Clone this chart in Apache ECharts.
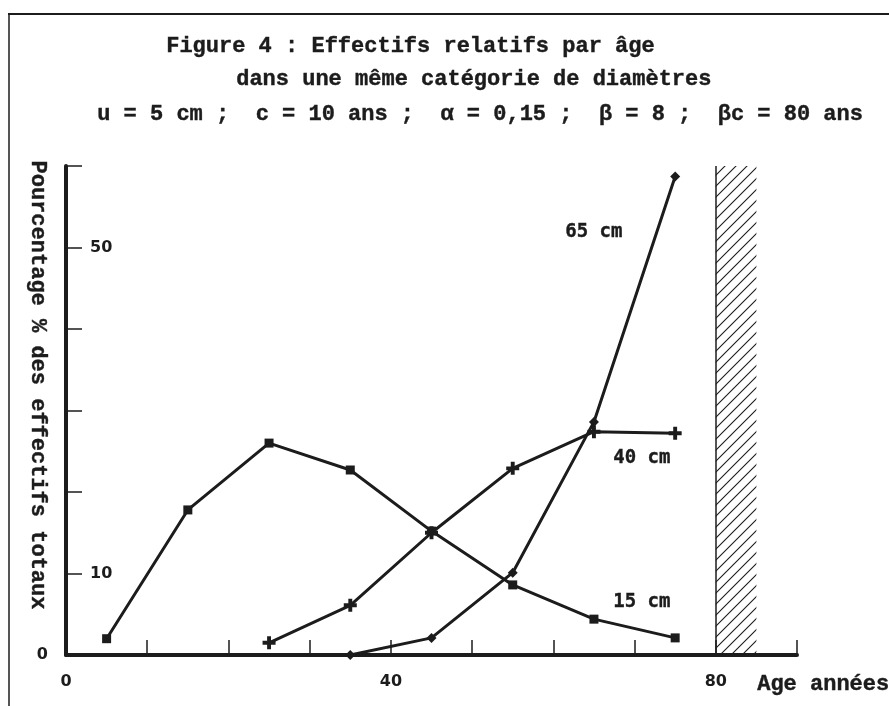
<!DOCTYPE html>
<html>
<head>
<meta charset="utf-8">
<script src="https://cdn.jsdelivr.net/npm/echarts@6/dist/echarts.min.js"></script>
<style>
html, body { margin: 0; padding: 0; background: #fff; }
#chart { width: 889px; height: 706px; }
</style>
</head>
<body>
<div id="chart"></div>
<script>
// ages (centre des classes de 10 ans)
var ages = [5, 15, 25, 35, 45, 55, 65, 75];
// pourcentage des effectifs totaux par catégorie de diamètre
var pct15 = [2.0, 17.8, 26.0, 22.7, 15.2, 8.6, 4.4, 2.1];
var pct40 = [null, null, 1.5, 6.1, 15.0, 22.9, 27.4, 27.2];
var pct65 = [null, null, null, 0, 2.1, 10.1, 28.6, 58.7];
var seriesNames = ['15 cm', '40 cm', '65 cm'];
var xTickLabels = [0, 40, 80];
var yInsideLabels = [10, 50];
var yOutsideLabels = [0];
var hatchFrom = [80, 0];
var hatchTo = [85, 60];

var ink = '#1c1c1c';
var mono = '"Liberation Mono", "DejaVu Sans Mono", monospace';
var sans = '"DejaVu Sans", Verdana, sans-serif';

function pairs(vals) {
    var out = [];
    for (var i = 0; i < ages.length; i++) {
        if (vals[i] !== null) out.push([ages[i], vals[i]]);
    }
    return out;
}

// motif hachuré pour la zone au-delà de βc
var hatch = document.createElement('canvas');
hatch.width = 11;
hatch.height = 11;
var hc = hatch.getContext('2d');
hc.strokeStyle = ink;
hc.lineWidth = 1.1;
hc.beginPath();
hc.moveTo(0, 11); hc.lineTo(11, 0);
hc.moveTo(-5.5, 5.5); hc.lineTo(5.5, -5.5);
hc.moveTo(5.5, 16.5); hc.lineTo(16.5, 5.5);
hc.stroke();

var plusPath = 'path://M3.5,0h3v3.5h3.5v3h-3.5v3.5h-3v-3.5h-3.5v-3h3.5z';

function lineSeries(name, vals, symbol, size) {
    return {
        name: name,
        type: 'line',
        data: pairs(vals),
        symbol: symbol,
        symbolSize: size,
        showSymbol: true,
        lineStyle: { color: ink, width: 3 },
        itemStyle: { color: ink },
        z: 3
    };
}

function txt(left, top, s, family, size) {
    return {
        type: 'text', left: left, top: top,
        style: {
            text: s, fontFamily: family, fontSize: size, fontWeight: 'bold',
            fill: ink, stroke: ink, lineWidth: 0.4
        }
    };
}

var s15 = lineSeries(seriesNames[0], pct15, 'rect', 9);
s15.markArea = {
    silent: true,
    itemStyle: { color: { image: hatch, repeat: 'repeat' } },
    data: [[{ coord: hatchFrom }, { coord: hatchTo }]]
};
s15.markLine = {
    silent: true,
    symbol: 'none',
    label: { show: false },
    lineStyle: { color: ink, width: 1.5, type: 'solid' },
    data: [[{ coord: hatchFrom }, { coord: [hatchFrom[0], hatchTo[1]] }]]
};

var tickLabel = { color: ink, fontFamily: sans, fontWeight: 'bold', fontSize: 16 };

var option = {
    animation: false,
    backgroundColor: '#ffffff',
    grid: { left: 66, top: 166, width: 731, height: 489, containLabel: false },
    xAxis: {
        type: 'value',
        min: 0,
        max: 90,
        interval: 10,
        splitLine: { show: false },
        axisLine: { lineStyle: { color: ink, width: 4 } },
        axisTick: { inside: true, length: 15, lineStyle: { color: ink, width: 1.5 } },
        axisLabel: Object.assign({
            margin: 19,
            formatter: function (v) { return xTickLabels.indexOf(v) >= 0 ? String(v) : ''; }
        }, tickLabel)
    },
    yAxis: [{
        type: 'value',
        min: 0,
        max: 60,
        interval: 10,
        splitLine: { show: false },
        axisLine: { lineStyle: { color: ink, width: 4 } },
        axisTick: { inside: true, length: 16, lineStyle: { color: ink, width: 1.5 } },
        axisLabel: Object.assign({
            inside: true,
            margin: 24,
            formatter: function (v) { return yInsideLabels.indexOf(v) >= 0 ? String(v) : ''; }
        }, tickLabel)
    }, {
        type: 'value',
        position: 'left',
        min: 0,
        max: 60,
        interval: 10,
        splitLine: { show: false },
        axisLine: { show: false },
        axisTick: { show: false },
        axisLabel: Object.assign({
            margin: 18,
            formatter: function (v) { return yOutsideLabels.indexOf(v) >= 0 ? String(v) : ''; }
        }, tickLabel)
    }],
    series: [
        s15,
        lineSeries(seriesNames[1], pct40, plusPath, 13),
        lineSeries(seriesNames[2], pct65, 'diamond', 10)
    ],
    graphic: [
        { type: 'line', shape: { x1: 8, y1: 14, x2: 889, y2: 14 }, style: { stroke: ink, lineWidth: 2 } },
        { type: 'line', shape: { x1: 9, y1: 14, x2: 9, y2: 706 }, style: { stroke: ink, lineWidth: 1.5 } },
        txt(166, 35, 'Figure 4 : Effectifs relatifs par âge', mono, 22),
        txt(236, 68, 'dans une même catégorie de diamètres', mono, 22),
        txt(97, 103, 'u = 5 cm ;  c = 10 ans ;  α = 0,15 ;  β = 8 ;  βc = 80 ans', mono, 22),
        txt(757, 673, 'Age années', mono, 22),
        {
            type: 'text', x: 38, y: 385, rotation: -Math.PI / 2,
            style: {
                text: 'Pourcentage % des effectifs totaux', fontFamily: mono, fontSize: 22,
                fontWeight: 'bold', fill: ink, stroke: ink, lineWidth: 0.4,
                align: 'center', verticalAlign: 'middle'
            }
        },
        txt(565, 222, '65 cm', '"DejaVu Sans Mono", monospace', 19),
        txt(613, 448, '40 cm', '"DejaVu Sans Mono", monospace', 19),
        txt(613, 592, '15 cm', '"DejaVu Sans Mono", monospace', 19)
    ]
};

var myChart = echarts.init(document.getElementById('chart'));
myChart.setOption(option);
</script>
</body>
</html>
